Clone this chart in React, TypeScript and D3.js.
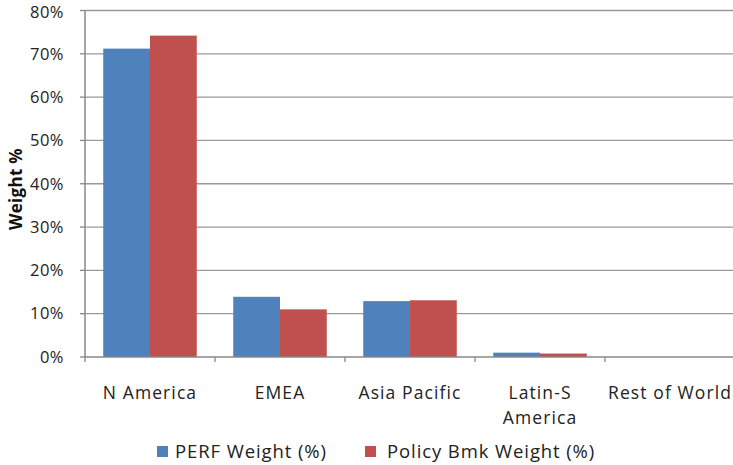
import React from "react";
import * as d3 from "d3";

const categories = ["N America", "EMEA", "Asia Pacific", "Latin-S America", "Rest of World"];
const categoryLines = [["N America"], ["EMEA"], ["Asia Pacific"], ["Latin-S", "America"], ["Rest of World"]];
const seriesNames = ["PERF Weight (%)", "Policy Bmk Weight (%)"];
const perfWeight = [71.2, 13.9, 12.9, 1.0, 0];
const policyWeight = [74.2, 11.0, 13.1, 0.8, 0];
const yTicks = [0, 10, 20, 30, 40, 50, 60, 70, 80];
const colors = ["#4F81BD", "#C0504D"];

export default function App() {
  const W = 733, H = 465;
  const left = 85, right = 735, top = 10.5, bottom = 357;
  const font = "'Open Sans', sans-serif";
  const x = d3.scaleBand<string>().domain(categories).range([left, right]).paddingInner(0).paddingOuter(0);
  const y = d3.scaleLinear().domain([0, 80]).range([bottom, top]);
  const inner = d3.scaleBand<string>().domain(["0", "1"]).range([0, x.bandwidth()]).paddingInner(0).paddingOuter(0.39);
  const series = [perfWeight, policyWeight];
  const tickXs = [...categories.map((c) => x(c) as number), right];
  return (
    <svg width={W} height={H} style={{ position: "absolute", left: 0, top: 0, background: "#fff" }}>
      {yTicks.map((t) => (
        <g key={t}>
          {t > 0 && <line x1={left} x2={right} y1={y(t)} y2={y(t)} stroke="#9a9a9a" strokeWidth={1.3} />}
          <line x1={left - 5} x2={left} y1={y(t)} y2={y(t)} stroke="#888" strokeWidth={1.3} />
          <text x={64} y={Math.max(y(t), 12.5)} dy="0.35em" textAnchor="end" fontFamily={font} fontSize={16.5} letterSpacing={0.5} fill="#222">{t}%</text>
        </g>
      ))}
      {series.map((vals, si) =>
        categories.map((c, ci) => {
          const v = vals[ci];
          if (v <= 0) return null;
          const bx = (x(c) as number) + (inner(String(si)) as number);
          return <rect key={si + "-" + c} x={bx} y={y(v)} width={inner.bandwidth()} height={bottom - y(v)} fill={colors[si]} />;
        })
      )}
      <line x1={left} x2={left} y1={top} y2={bottom} stroke="#888" strokeWidth={1.5} />
      <line x1={left} x2={right} y1={bottom} y2={bottom} stroke="#888" strokeWidth={1.5} />
      {tickXs.map((tx, i) => (
        <line key={i} x1={tx} x2={tx} y1={bottom} y2={bottom + 5} stroke="#888" strokeWidth={1.3} />
      ))}
      {categoryLines.map((lines, ci) => (
        <text key={ci} x={(x(categories[ci]) as number) + x.bandwidth() / 2} y={393} textAnchor="middle" fontFamily={font} fontSize={17.5} letterSpacing={1.1} fill="#222">
          {lines.map((l, li) => (
            <tspan key={li} x={(x(categories[ci]) as number) + x.bandwidth() / 2} dy={li === 0 ? "0.35em" : 25}>{l}</tspan>
          ))}
        </text>
      ))}
      <text transform={`translate(16,189) rotate(-90)`} textAnchor="middle" dy="0.35em" fontFamily={font} fontSize={17} fontWeight="bold" letterSpacing={0.3} fill="#111">Weight %</text>
      <g>
        <rect x={157} y={446} width={11} height={11} fill={colors[0]} />
        <text x={175} y={452} dy="0.35em" fontFamily={font} fontSize={18.5} letterSpacing={0.9} fill="#222">{seriesNames[0]}</text>
        <rect x={365} y={446} width={11} height={11} fill={colors[1]} />
        <text x={387} y={452} dy="0.35em" fontFamily={font} fontSize={18.5} letterSpacing={0.9} fill="#222">{seriesNames[1]}</text>
      </g>
    </svg>
  );
}
